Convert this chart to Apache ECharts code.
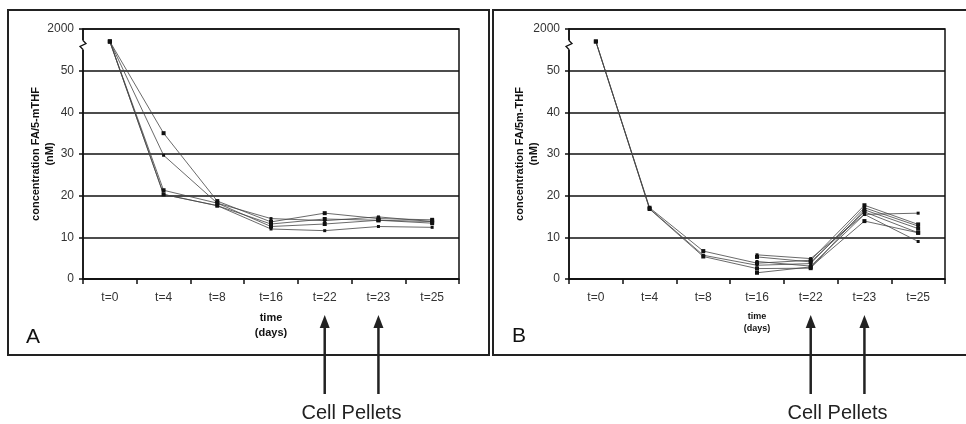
<!DOCTYPE html>
<html>
<head>
<meta charset="utf-8">
<script src="https://cdn.jsdelivr.net/npm/echarts@6/dist/echarts.min.js"></script>
<style>
html,body{margin:0;padding:0;background:#fff;}
#chart{width:966px;height:424px;}
</style>
</head>
<body>
<div id="chart"></div>
<script>
// ---- data ----
const categories = ['t=0', 't=4', 't=8', 't=16', 't=22', 't=23', 't=25'];
const yTickLabels = ['0', '10', '20', '30', '40', '50', '2000'];
// Panel A (t=0 sits on the broken "2000" part of the axis)
const a1 = [57, 35.0, 18.7, 13.7, 15.8, 14.5, 14.2];
const a2 = [57, 29.7, 18.2, 14.5, 14.0, 14.9, 13.8];
const a3 = [57, 21.3, 18.2, 12.6, 13.2, 14.1, 13.4];
const a4 = [57, 20.3, 17.6, 12.0, 11.6, 12.6, 12.4];
const a5 = [57, 20.3, 17.6, 13.2, 14.4, 14.1, 13.8];
// Panel B
const b1 = [57, 17.1, 6.7, 3.8, 4.5, 17.7, 13.1];
const b2 = [57, 16.9, 5.7, 3.3, 3.7, 17.1, 12.7];
const b3 = [57, 16.8, 5.4, 2.5, 2.6, 16.6, 12.1];
const b4 = [null, null, null, 5.8, 4.9, 15.5, 15.8];
const b5 = [null, null, null, 5.3, 4.1, 16.1, 11.1];
const b6 = [null, null, null, 4.2, 3.1, 15.5, 9.0];
const b7 = [null, null, null, 1.5, 2.9, 13.9, 11.1];
const seriesA = [a1, a2, a3, a4, a5];
const seriesB = [b1, b2, b3, b4, b5, b6, b7];
const arrowCats = ['t=22', 't=23'];

const FONT = '"Liberation Sans", Arial, sans-serif';
const chart = echarts.init(document.getElementById('chart'), null, {renderer: 'canvas'});

function xAxisCfg(gi, nameSize, nameLH, nameGap) {
  return {
    type: 'category', gridIndex: gi, data: categories, boundaryGap: true,
    axisLine: {show: true, lineStyle: {color: '#111', width: 1.5}},
    axisTick: {show: true, length: 5, inside: false, alignWithLabel: false, lineStyle: {color: '#111', width: 1.5}},
    axisLabel: {color: '#333', fontSize: 12, fontFamily: FONT, margin: 13},
    name: 'time\n(days)', nameLocation: 'middle', nameGap: nameGap, nameMoveOverlap: false,
    nameTextStyle: {fontWeight: 'bold', fontSize: nameSize, lineHeight: nameLH, fontFamily: FONT, color: '#111'},
    splitLine: {show: false}
  };
}
function yAxisCfg(gi, title, nameGap) {
  return {
    type: 'value', gridIndex: gi, min: 0, max: 60, interval: 10,
    axisLine: {show: true, lineStyle: {color: '#111', width: 1.5}},
    axisTick: {show: true, length: 4, inside: false, lineStyle: {color: '#111', width: 1.5}},
    axisLabel: {color: '#333', fontSize: 12, fontFamily: FONT, margin: 9,
      formatter: v => yTickLabels[Math.round(v / 10)]},
    splitLine: {show: true, lineStyle: {color: '#111', width: 1.6}},
    name: title, nameLocation: 'middle', nameGap: nameGap, nameRotate: 90, nameMoveOverlap: false,
    nameTextStyle: {fontWeight: 'bold', fontSize: 11, lineHeight: 14, fontFamily: FONT, color: '#111'}
  };
}
function mkSeries(arr, gi) {
  return arr.map((d, i) => ({
    type: 'line', xAxisIndex: gi, yAxisIndex: gi, data: d,
    symbol: 'rect', symbolSize: (i % 2 === 0) ? 4 : 3, showSymbol: true,
    connectNulls: false,
    lineStyle: {color: '#444', width: 0.8},
    itemStyle: {color: '#111'},
    z: 3, animation: false
  }));
}

chart.setOption({
  animation: false,
  backgroundColor: '#fff',
  grid: [
    {left: 83, top: 29, width: 376, height: 250, show: true, borderColor: '#111', borderWidth: 1.5, backgroundColor: 'transparent'},
    {left: 569, top: 29, width: 376, height: 250, show: true, borderColor: '#111', borderWidth: 1.5, backgroundColor: 'transparent'}
  ],
  xAxis: [xAxisCfg(0, 11, 15, 31), xAxisCfg(1, 9, 12, 32)],
  yAxis: [yAxisCfg(0, 'concentration FA/5-mTHF\n(nM)', 26), yAxisCfg(1, 'concentration FA/5m-THF\n(nM)', 28)],
  series: mkSeries(seriesA, 0).concat(mkSeries(seriesB, 1))
});

// ---- annotations ----
function arrow(x) {
  return [
    {type: 'line', shape: {x1: x, y1: 394, x2: x, y2: 324}, style: {stroke: '#222', lineWidth: 2.5}, z: 10},
    {type: 'polygon', shape: {points: [[x, 315], [x - 5, 328], [x + 5, 328]]}, style: {fill: '#222'}, z: 10}
  ];
}
function breakMark(gi) {
  const xa = (gi === 0) ? 83 : 569;
  const yTop = chart.convertToPixel({yAxisIndex: gi}, 57) - 1;
  return [
    {type: 'rect', shape: {x: xa - 2, y: yTop, width: 4, height: 9}, style: {fill: '#fff'}, z: 20},
    {type: 'polyline', shape: {points: [[xa, yTop], [xa + 3, yTop + 3], [xa - 3, yTop + 6], [xa, yTop + 9]]},
      style: {stroke: '#111', lineWidth: 1.3, fill: null}, z: 21}
  ];
}
const els = [
  {type: 'rect', shape: {x: 8, y: 10, width: 481, height: 345}, style: {fill: null, stroke: '#222', lineWidth: 2}, z: 0},
  {type: 'rect', shape: {x: 493, y: 10, width: 480, height: 345}, style: {fill: null, stroke: '#222', lineWidth: 2}, z: 0},
  {type: 'text', style: {text: 'A', x: 26, y: 337, fontSize: 21, fontFamily: FONT, fill: '#111', textVerticalAlign: 'middle'}, z: 10},
  {type: 'text', style: {text: 'B', x: 512, y: 336, fontSize: 21, fontFamily: FONT, fill: '#111', textVerticalAlign: 'middle'}, z: 10}
];
[0, 1].forEach(gi => {
  const xs = arrowCats.map(c => chart.convertToPixel({xAxisIndex: gi}, c));
  xs.forEach(x => els.push(...arrow(x)));
  const cx = (xs[0] + xs[1]) / 2;
  els.push({type: 'text', style: {text: 'Cell Pellets', x: cx, y: 413, fontSize: 20, fontFamily: FONT, fill: '#222',
    textAlign: 'center', textVerticalAlign: 'middle'}, z: 10});
  els.push(...breakMark(gi));
});
chart.setOption({graphic: els});
</script>
</body>
</html>
